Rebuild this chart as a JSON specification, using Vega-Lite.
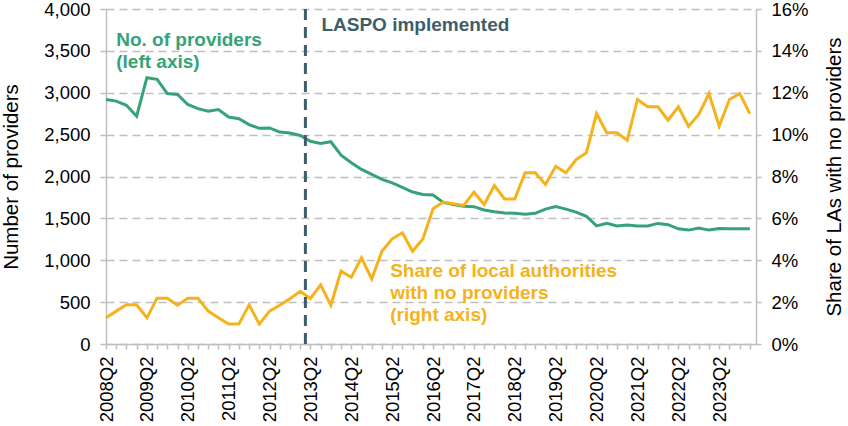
{
  "$schema": "https://vega.github.io/schema/vega-lite/v6.json",
  "width": 650,
  "height": 335,
  "autosize": {"type": "none"},
  "padding": {"left": 106, "top": 9, "right": 92, "bottom": 82},
  "config": {
    "view": {"stroke": null},
    "font": "Liberation Sans",
    "axis": {
      "labelFont": "Liberation Sans",
      "titleFont": "Liberation Sans",
      "labelColor": "#000000",
      "titleColor": "#000000",
      "titleFontWeight": "normal",
      "labelFontSize": 18.5,
      "titleFontSize": 20.5,
      "domainColor": "#bfbfbf",
      "domainWidth": 1.5,
      "tickColor": "#bfbfbf",
      "tickWidth": 1.5
    }
  },
  "datasets": {
    "series": [
      {"quarter": "2008Q2", "providers": 2920, "share": 0.0125},
      {"quarter": "2008Q3", "providers": 2900, "share": 0.0157},
      {"quarter": "2008Q4", "providers": 2850, "share": 0.0187},
      {"quarter": "2009Q1", "providers": 2720, "share": 0.0187},
      {"quarter": "2009Q2", "providers": 3180, "share": 0.0125},
      {"quarter": "2009Q3", "providers": 3160, "share": 0.0219},
      {"quarter": "2009Q4", "providers": 2990, "share": 0.0219},
      {"quarter": "2010Q1", "providers": 2980, "share": 0.0185},
      {"quarter": "2010Q2", "providers": 2860, "share": 0.0219},
      {"quarter": "2010Q3", "providers": 2810, "share": 0.0219},
      {"quarter": "2010Q4", "providers": 2780, "share": 0.0157},
      {"quarter": "2011Q1", "providers": 2800, "share": 0.0125},
      {"quarter": "2011Q2", "providers": 2710, "share": 0.0095},
      {"quarter": "2011Q3", "providers": 2690, "share": 0.0095},
      {"quarter": "2011Q4", "providers": 2620, "share": 0.0187},
      {"quarter": "2012Q1", "providers": 2575, "share": 0.0095},
      {"quarter": "2012Q2", "providers": 2580, "share": 0.0157},
      {"quarter": "2012Q3", "providers": 2530, "share": 0.0185},
      {"quarter": "2012Q4", "providers": 2520, "share": 0.0216},
      {"quarter": "2013Q1", "providers": 2490, "share": 0.0252},
      {"quarter": "2013Q2", "providers": 2420, "share": 0.0217},
      {"quarter": "2013Q3", "providers": 2395, "share": 0.0283},
      {"quarter": "2013Q4", "providers": 2415, "share": 0.0185},
      {"quarter": "2014Q1", "providers": 2255, "share": 0.0348},
      {"quarter": "2014Q2", "providers": 2165, "share": 0.0319},
      {"quarter": "2014Q3", "providers": 2085, "share": 0.0412},
      {"quarter": "2014Q4", "providers": 2025, "share": 0.0311},
      {"quarter": "2015Q1", "providers": 1965, "share": 0.0443},
      {"quarter": "2015Q2", "providers": 1925, "share": 0.0502},
      {"quarter": "2015Q3", "providers": 1870, "share": 0.0531},
      {"quarter": "2015Q4", "providers": 1815, "share": 0.0443},
      {"quarter": "2016Q1", "providers": 1785, "share": 0.0502},
      {"quarter": "2016Q2", "providers": 1780, "share": 0.0646},
      {"quarter": "2016Q3", "providers": 1690, "share": 0.0678},
      {"quarter": "2016Q4", "providers": 1665, "share": 0.0670},
      {"quarter": "2017Q1", "providers": 1645, "share": 0.0662},
      {"quarter": "2017Q2", "providers": 1640, "share": 0.0725},
      {"quarter": "2017Q3", "providers": 1600, "share": 0.0666},
      {"quarter": "2017Q4", "providers": 1580, "share": 0.0757},
      {"quarter": "2018Q1", "providers": 1565, "share": 0.0693},
      {"quarter": "2018Q2", "providers": 1560, "share": 0.0693},
      {"quarter": "2018Q3", "providers": 1550, "share": 0.0818},
      {"quarter": "2018Q4", "providers": 1560, "share": 0.0818},
      {"quarter": "2019Q1", "providers": 1610, "share": 0.0762},
      {"quarter": "2019Q2", "providers": 1640, "share": 0.0849},
      {"quarter": "2019Q3", "providers": 1610, "share": 0.0818},
      {"quarter": "2019Q4", "providers": 1575, "share": 0.0881},
      {"quarter": "2020Q1", "providers": 1525, "share": 0.0913},
      {"quarter": "2020Q2", "providers": 1410, "share": 0.1100},
      {"quarter": "2020Q3", "providers": 1440, "share": 0.1009},
      {"quarter": "2020Q4", "providers": 1410, "share": 0.1009},
      {"quarter": "2021Q1", "providers": 1420, "share": 0.0973},
      {"quarter": "2021Q2", "providers": 1410, "share": 0.1168},
      {"quarter": "2021Q3", "providers": 1410, "share": 0.1133},
      {"quarter": "2021Q4", "providers": 1440, "share": 0.1133},
      {"quarter": "2022Q1", "providers": 1425, "share": 0.1069},
      {"quarter": "2022Q2", "providers": 1375, "share": 0.1133},
      {"quarter": "2022Q3", "providers": 1360, "share": 0.1040},
      {"quarter": "2022Q4", "providers": 1385, "share": 0.1096},
      {"quarter": "2023Q1", "providers": 1360, "share": 0.1196},
      {"quarter": "2023Q2", "providers": 1380, "share": 0.1040},
      {"quarter": "2023Q3", "providers": 1375, "share": 0.1168},
      {"quarter": "2023Q4", "providers": 1375, "share": 0.1196},
      {"quarter": "2024Q1", "providers": 1375, "share": 0.1100}
    ]
  },
  "data": {"name": "series"},
  "encoding": {
    "x": {
      "field": "quarter",
      "type": "ordinal",
      "scale": {"type": "point", "padding": 0.3, "align": 0, "round": false},
      "axis": {
        "title": null,
        "labelAngle": -90,
        "labelExpr": "slice(datum.label, 5) == '2' ? datum.label : ''",
        "labelOverlap": false,
        "labelPadding": 7,
        "tickSize": 5,
        "grid": false
      }
    }
  },
  "layer": [
    {
      "mark": {"type": "line", "color": "#35a377", "strokeWidth": 3},
      "encoding": {
        "y": {
          "field": "providers",
          "type": "quantitative",
          "scale": {"domain": [0, 4000]},
          "axis": {
            "orient": "left",
            "title": "Number of providers",
            "values": [0, 500, 1000, 1500, 2000, 2500, 3000, 3500, 4000],
            "format": ",.0f",
            "grid": true,
            "gridColor": "#bfbfbf",
            "gridDash": [8, 5],
            "gridWidth": 1.5,
            "tickSize": 6,
            "labelPadding": 10,
            "titlePadding": 22
          }
        }
      }
    },
    {
      "mark": {"type": "line", "color": "#f5b21a", "strokeWidth": 3},
      "encoding": {
        "y": {
          "field": "share",
          "type": "quantitative",
          "scale": {"domain": [0, 0.16]},
          "axis": {
            "orient": "right",
            "title": "Share of LAs with no providers",
            "titleAngle": 270,
            "titleBaseline": "top",
            "values": [0, 0.02, 0.04, 0.06, 0.08, 0.1, 0.12, 0.14, 0.16],
            "format": ".0%",
            "grid": false,
            "tickSize": 5,
            "labelPadding": 10,
            "titlePadding": 16
          }
        }
      }
    },
    {
      "data": {"values": [{"quarter": "2013Q2", "event": "LASPO implemented"}]},
      "mark": {"type": "rule", "color": "#3f5e6b", "strokeWidth": 3, "strokeDash": [11, 7], "xOffset": -5},
      "encoding": {}
    },
    {
      "data": {"values": [{"quarter": "2013Q2", "level": 3812, "note": "LASPO implemented"}]},
      "mark": {"type": "text", "color": "#3f5e6b", "fontWeight": "bold", "fontSize": 19, "align": "left", "baseline": "middle", "dx": 11},
      "encoding": {
        "y": {"field": "level", "type": "quantitative", "scale": {"domain": [0, 4000]}, "axis": null},
        "text": {"field": "note"}
      }
    },
    {
      "data": {"values": [{"quarter": "2008Q3", "level": 3630}]},
      "mark": {"type": "text", "color": "#35a377", "fontWeight": "bold", "fontSize": 19, "align": "left", "baseline": "middle", "lineHeight": 22},
      "encoding": {
        "y": {"field": "level", "type": "quantitative", "scale": {"domain": [0, 4000]}, "axis": null},
        "text": {"value": ["No. of providers", "(left axis)"]}
      }
    },
    {
      "data": {"values": [{"quarter": "2015Q2", "level": 875}]},
      "mark": {"type": "text", "color": "#f5b21a", "fontWeight": "bold", "fontSize": 19, "align": "left", "baseline": "middle", "lineHeight": 22.3, "dx": -2},
      "encoding": {
        "y": {"field": "level", "type": "quantitative", "scale": {"domain": [0, 4000]}, "axis": null},
        "text": {"value": ["Share of local authorities", "with no providers", "(right axis)"]}
      }
    }
  ],
  "resolve": {"scale": {"y": "independent"}}
}
